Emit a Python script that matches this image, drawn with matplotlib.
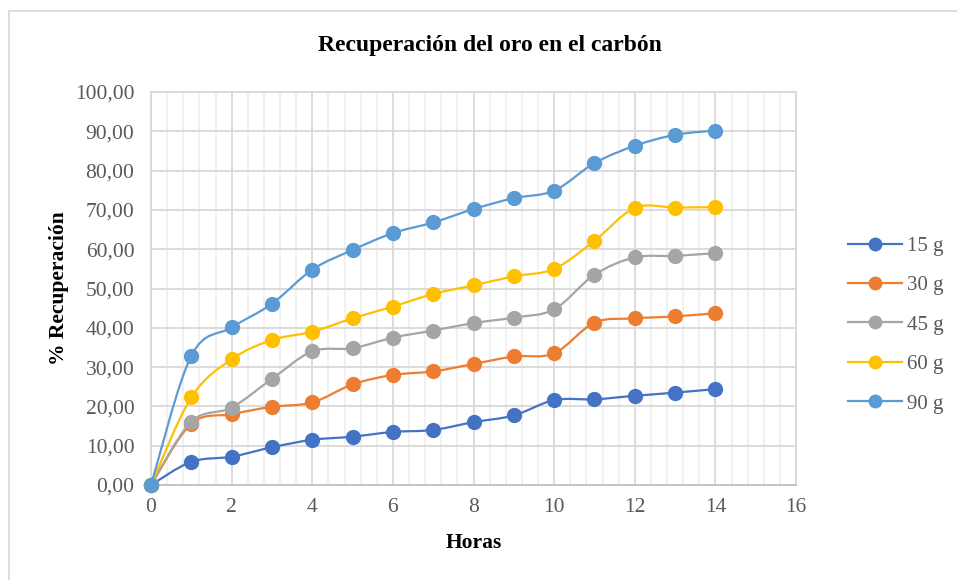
import matplotlib
matplotlib.use("Agg")
import matplotlib.pyplot as plt
from matplotlib.path import Path
from matplotlib.patches import PathPatch
from matplotlib.lines import Line2D
from matplotlib.ticker import MultipleLocator, FuncFormatter

# data
horas = [0, 1, 2, 3, 4, 5, 6, 7, 8, 9, 10, 11, 12, 13, 14]
rec_15 = [0, 5.9, 7.2, 9.6, 11.5, 12.3, 13.5, 14.0, 16.0, 17.7, 21.6, 21.8, 22.7, 23.5, 24.4]
rec_30 = [0, 15.6, 18.0, 19.9, 21.0, 25.6, 28.0, 28.9, 30.8, 32.7, 33.5, 41.3, 42.4, 42.9, 43.7]
rec_45 = [0, 16.1, 19.7, 27.0, 34.0, 34.8, 37.5, 39.3, 41.2, 42.6, 44.7, 53.5, 57.9, 58.3, 59.0]
rec_60 = [0, 22.3, 32.0, 36.9, 39.0, 42.4, 45.4, 48.6, 50.8, 53.1, 55.0, 62.1, 70.5, 70.6, 70.7]
rec_90 = [0, 32.9, 40.1, 46.1, 54.8, 59.8, 64.1, 66.8, 70.2, 73.0, 74.9, 81.9, 86.3, 89.1, 90.2]

labels = ["15 g", "30 g", "45 g", "60 g", "90 g"]
series = [rec_15, rec_30, rec_45, rec_60, rec_90]
colors = ["#4472C4", "#ED7D31", "#A5A5A5", "#FFC000", "#5B9BD5"]

SERIF = ["Liberation Serif", "DejaVu Serif"]
plt.rcParams["font.family"] = SERIF


def smooth_path(xs, ys):
    # bezier path like excel's "smoothed line", control points from neighbours
    pts = list(zip(xs, ys))
    n = len(pts)
    verts = [pts[0]]
    codes = [Path.MOVETO]
    for i in range(n - 1):
        p0 = pts[i - 1] if i > 0 else pts[i]
        p1 = pts[i]
        p2 = pts[i + 1]
        p3 = pts[i + 2] if i + 2 < n else pts[i + 1]
        c1 = (p1[0] + (p2[0] - p0[0]) / 6, p1[1] + (p2[1] - p0[1]) / 6)
        c2 = (p2[0] - (p3[0] - p1[0]) / 6, p2[1] - (p3[1] - p1[1]) / 6)
        verts += [c1, c2, p2]
        codes += [Path.CURVE4] * 3
    return Path(verts, codes)


fig = plt.figure(figsize=(9.57, 5.8), dpi=100)
ax = fig.add_axes([151 / 957, 1 - 485 / 580, 645 / 957, 393 / 580])

# outer chart border
fig.add_artist(Line2D([9 / 957, 9 / 957], [0, 1 - 11 / 580], transform=fig.transFigure,
                      color="#d9d9d9", lw=1.3))
fig.add_artist(Line2D([9 / 957, 1], [1 - 11 / 580, 1 - 11 / 580], transform=fig.transFigure,
                      color="#d9d9d9", lw=1.3))

handles = []
for ys, lab, col in zip(series, labels, colors):
    ax.add_patch(PathPatch(smooth_path(horas, ys), facecolor="none", edgecolor=col,
                           lw=1.6, zorder=3))
    ax.plot(horas, ys, "o", color=col, markersize=11, markeredgewidth=0, zorder=4,
            clip_on=False)
    handles.append(Line2D([], [], color=col, lw=1.6, marker="o", markersize=10,
                          markeredgewidth=0, label=lab))

ax.set_xlim(0, 16)
ax.set_ylim(0, 100)
ax.xaxis.set_major_locator(MultipleLocator(2))
ax.xaxis.set_minor_locator(MultipleLocator(0.4))
ax.yaxis.set_major_locator(MultipleLocator(10))
ax.yaxis.set_major_formatter(FuncFormatter(lambda v, p: f"{v:.2f}".replace(".", ",")))

ax.grid(which="major", color="#d9d9d9", lw=1.3, zorder=0)
ax.grid(which="minor", axis="x", color="#f0f0f0", lw=1.3, zorder=0)
ax.set_axisbelow(True)
for s in ax.spines.values():
    s.set_color("#d9d9d9")
    s.set_linewidth(1.3)
ax.spines["bottom"].set_color("#bfbfbf")

ax.tick_params(which="both", length=0, labelsize=15.5, labelcolor="#595959")
ax.tick_params(axis="y", pad=12)
ax.tick_params(axis="x", pad=9)

ax.set_xlabel("Horas", fontsize=15.5, fontweight="bold", labelpad=12)
ax.set_ylabel("% Recuperación", fontsize=15.5, fontweight="bold", labelpad=4)

fig.text(490 / 957, 1 - 45 / 580, "Recuperación del oro en el carbón",
         ha="center", va="center", fontsize=17, fontweight="bold")

leg = ax.legend(handles=handles, loc="center left", bbox_to_anchor=(829 / 957, 1 - 325 / 580),
                bbox_transform=fig.transFigure, frameon=False, fontsize=15,
                labelspacing=0.95, handlelength=2.6, handletextpad=0.25)
for t in leg.get_texts():
    t.set_color("#595959")

fig.savefig("out.png", dpi=100)
